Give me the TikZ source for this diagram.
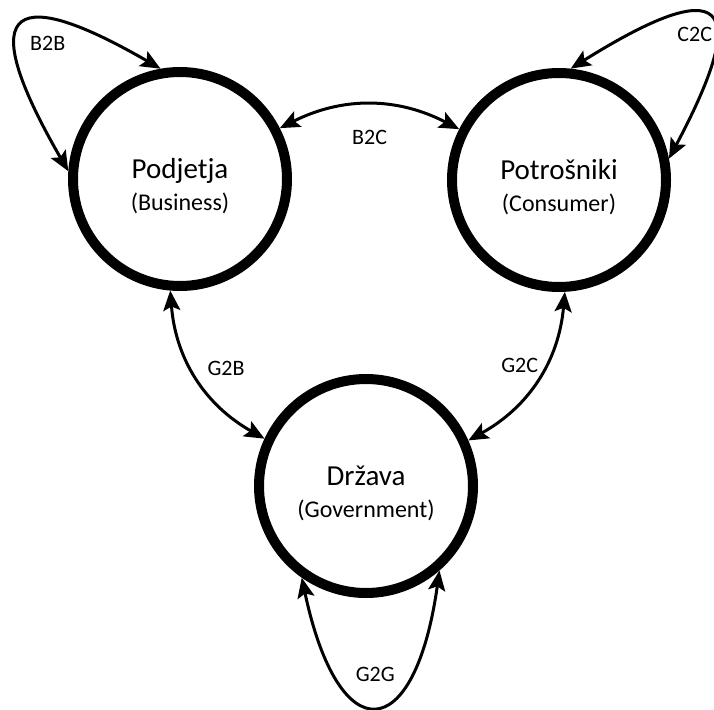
\documentclass[tikz,border=0pt]{standalone}
\usepackage{fontspec}
\setmainfont{Carlito}
\usetikzlibrary{arrows.meta}
\newcommand{\eng}[1]{{\fontsize{24}{27}\selectfont #1}}
\begin{document}
\begin{tikzpicture}[x=1pt, y=1pt, line width=3pt,
            main/.style = {draw, circle, line width=10pt, minimum size=214pt, inner sep=0pt,
                           align=center, text height=66pt, font=\fontsize{29}{32}\selectfont},
            rel/.style = {font=\fontsize{22}{24}\selectfont},
            >={Stealth[length=20pt, width=17pt, inset=4pt]}]
           \useasboundingbox (0,0) rectangle (714,-709);

           \node[main] (b) at (180,-179) {Podjetja\\\eng{(Business)}};
           \node[main] (c) at (559,-180) {Potrošniki\\\eng{(Consumer)}};
           \node[main] (g) at (366,-486) {Država\\\eng{(Government)}};

            % povezave med vozlisci
            \draw[<->] (b.27) to[bend left=27] node[midway, below=21pt, rel] (lbc) {B2C} (c.153);
            \draw[<->] (b.265) to[bend right=28] node[pos=0.44, right=11pt, rel] (lgb) {G2B} (g.155);
            \draw[<->] (c.273) to[bend left=28] node[pos=0.41, left=2pt, rel] (lgc) {G2C} (g.24);

            % zanke
            \draw[<->] (b.176) to[out=120, in=150, looseness=3.36] node[midway, below right=4pt, rel] (lbb) {B2B} (b.100);
            \draw[<->] (c.11) to[out=62, in=32, looseness=3.46] node[midway, below left, xshift=8pt, yshift=-4pt, rel] (lcc) {C2C} (c.84);
            \draw[<->] (g.235) to[out=282, in=262, looseness=3.3] node[midway, above=19pt, rel] (lgg) {G2G} (g.311);
        \end{tikzpicture}
\end{document}
